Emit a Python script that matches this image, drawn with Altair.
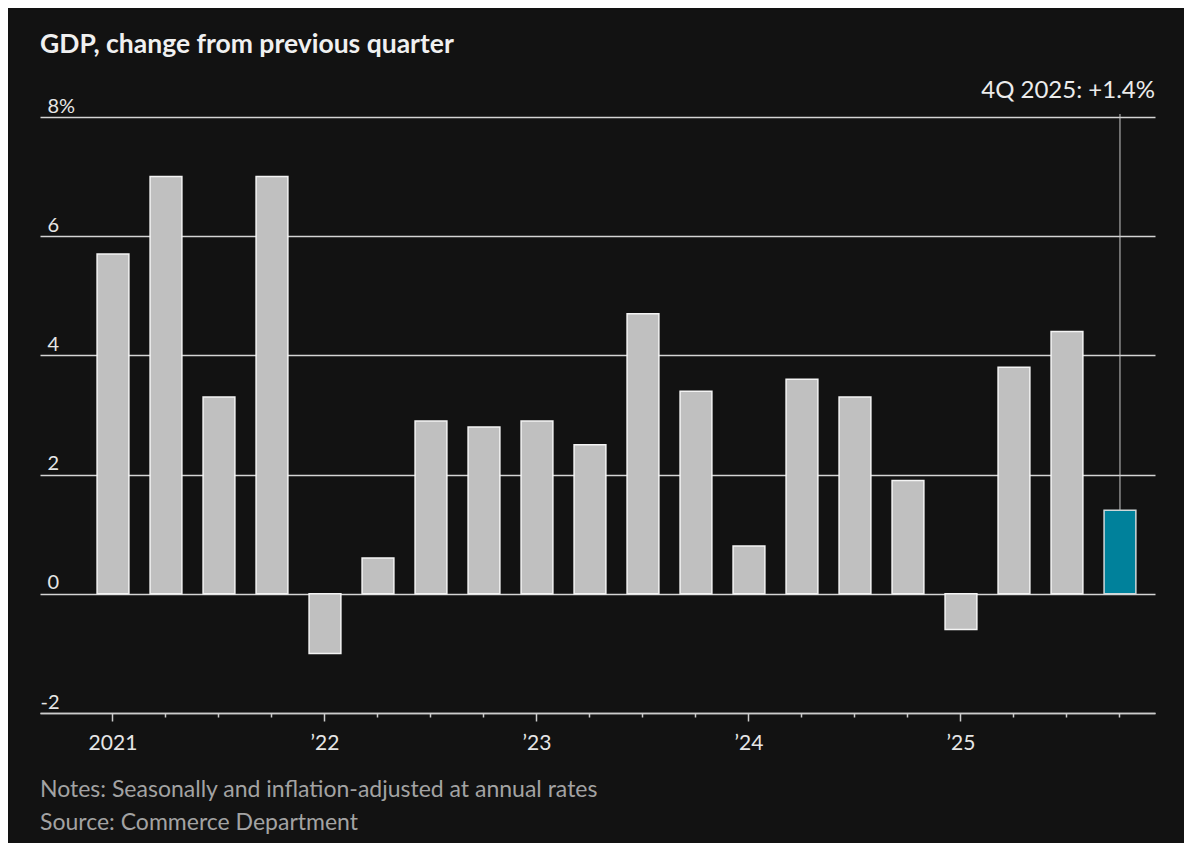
import altair as alt
import pandas as pd

quarters = ["1Q 2021", "2Q 2021", "3Q 2021", "4Q 2021",
            "1Q 2022", "2Q 2022", "3Q 2022", "4Q 2022",
            "1Q 2023", "2Q 2023", "3Q 2023", "4Q 2023",
            "1Q 2024", "2Q 2024", "3Q 2024", "4Q 2024",
            "1Q 2025", "2Q 2025", "3Q 2025", "4Q 2025"]
values = [5.7, 7.0, 3.3, 7.0,
          -1.0, 0.6, 2.9, 2.8,
          2.9, 2.5, 4.7, 3.4,
          0.8, 3.6, 3.3, 1.9,
          -0.6, 3.8, 4.4, 1.4]
y_ticks = [-2, 0, 2, 4, 6, 8]

title_text = "GDP, change from previous quarter"
notes_text = "Notes: Seasonally and inflation-adjusted at annual rates"
source_text = "Source: Commerce Department"
latest = quarters[-1]
annot_text = f"{latest}: +{values[-1]}%"

FONT = "Lato"
BG = "#121212"

df = pd.DataFrame({"quarter": quarters, "value": values})

W, H = 1115, 596

x_enc = alt.X(
    "quarter:N", sort=quarters,
    scale=alt.Scale(paddingInner=0.4, paddingOuter=0.719, align=0.749),
    axis=alt.Axis(
        title=None, labelAngle=0, grid=False,
        domainColor="#cccccc", domainWidth=1.5,
        tickColor="#cccccc", tickWidth=1.5,
        tickSize={"condition": {"test": "indexof(datum.label, '1Q') == 0", "value": 8}, "value": 4},
        labelExpr="indexof(datum.label, '1Q') == 0 ? (datum.label == '1Q 2021' ? '2021' : '\u2019' + slice(datum.label, -2)) : ''",
        labelColor="#e6e6e6", labelFont=FONT, labelFontSize=21,
        labelPadding=11, labelOverlap=False,
    ),
)

y_enc = alt.Y(
    "value:Q",
    scale=alt.Scale(domain=[-2, 8], nice=False, zero=False),
    axis=alt.Axis(
        title=None, values=y_ticks, domain=False, ticks=False,
        grid=True, gridColor="#d4d4d4", gridWidth=1.3,
        labelAlign="left", labelBaseline="alphabetic", labelOffset=-5,
        labelPadding={"condition": {"test": "datum.value < 0", "value": 0}, "value": -7},
        labelExpr="datum.value == 8 ? '8%' : (datum.value < 0 ? '-' + abs(datum.value) : '' + datum.value)",
        labelColor="#e6e6e6", labelFont=FONT, labelFontSize=20,
    ),
)

is_latest = alt.datum.quarter == latest

bars = alt.Chart(df).mark_bar(strokeWidth=1.5).encode(
    x=x_enc,
    y=y_enc,
    fill=alt.condition(is_latest, alt.value("#00819b"), alt.value("#c0c0c0")),
    stroke=alt.condition(is_latest, alt.value("#cfd8da"), alt.value("#f4f4f4")),
)

last_df = df[df["quarter"] == latest]

rule = alt.Chart(last_df).mark_rule(color="#c8c8c8", strokeWidth=1).encode(
    x=alt.X("quarter:N", sort=quarters),
    y=alt.Y("value:Q"),
    y2=alt.value(-3),
)

annot = alt.Chart(pd.DataFrame({"t": [annot_text]})).mark_text(
    align="right", baseline="alphabetic", font=FONT, fontSize=24, color="#ececec"
).encode(x=alt.value(W), y=alt.value(-19), text="t:N")

title = alt.Chart(pd.DataFrame({"t": [title_text]})).mark_text(
    align="left", baseline="alphabetic", font=FONT, fontSize=26.5, fontWeight="bold", color="#f0f0f0"
).encode(x=alt.value(0), y=alt.value(-64), text="t:N")

notes = alt.Chart(pd.DataFrame({"t": [notes_text]})).mark_text(
    align="left", baseline="alphabetic", font=FONT, fontSize=23, color="#a3a3a3"
).encode(x=alt.value(0), y=alt.value(680), text="t:N")

source = alt.Chart(pd.DataFrame({"t": [source_text]})).mark_text(
    align="left", baseline="alphabetic", font=FONT, fontSize=23, color="#a3a3a3"
).encode(x=alt.value(0), y=alt.value(713), text="t:N")

chart = alt.layer(bars, rule, annot, title, notes, source).properties(
    width=W, height=H,
    background=BG,
    padding={"left": 32, "top": 109, "right": 29, "bottom": 130},
    autosize=alt.AutoSizeParams(type="none"),
).configure_view(stroke=None)

chart.save("out.html", embed_options={"renderer": "svg", "actions": False})
